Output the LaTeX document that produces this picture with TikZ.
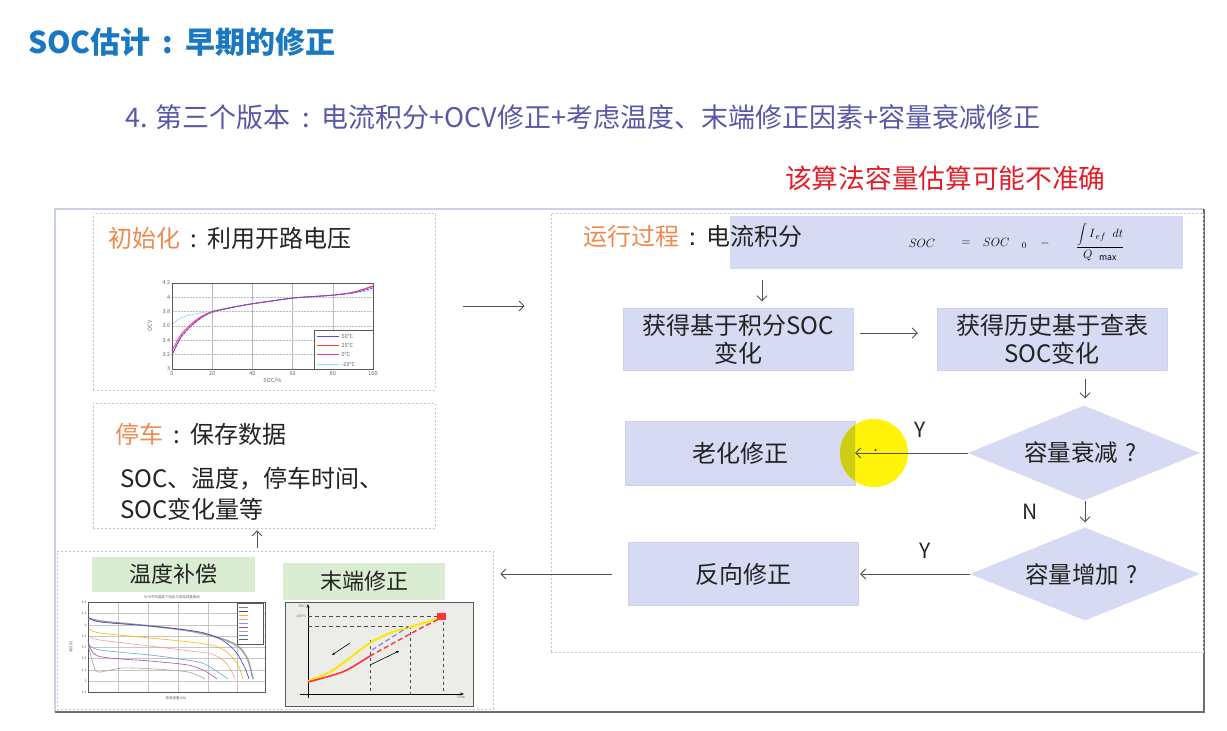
\documentclass[tikz,border=0pt]{standalone}
\usepackage{fontspec}
\setmainfont{Noto Sans CJK SC}
\usetikzlibrary{arrows.meta,shapes.geometric}
\definecolor{titleblue}{RGB}{26,120,192}
\definecolor{subblue}{RGB}{88,88,168}
\definecolor{warnred}{RGB}{228,30,40}
\definecolor{stageorange}{RGB}{238,138,78}
\definecolor{boxfill}{RGB}{214,218,242}
\definecolor{greenfill}{RGB}{218,237,210}
\definecolor{textdark}{RGB}{35,35,35}
\definecolor{arrowgray}{RGB}{80,80,80}
\definecolor{framegray}{RGB}{110,110,110}
\definecolor{chartbg}{RGB}{236,236,232}
% centred wide colon used in the headings
\newcommand{\widecolon}{\makebox[1.15em][c]{:}}
\newcommand{\wideqm}{\makebox[1.1em][c]{?}}
\begin{document}
\begin{tikzpicture}[x=1pt,y=-1pt,
  txt/.style={font=\fontsize{24}{28}\selectfont, text=textdark, inner sep=0},
  flowbox/.style={rectangle, fill=boxfill, draw=boxfill!90!gray, line width=0.4pt,
    minimum width=230pt, minimum height=62pt, inner sep=0, align=center,
    font=\fontsize{24}{28}\selectfont, text=textdark},
  decision/.style={diamond, aspect=2.44, fill=boxfill, inner sep=0,
    font=\fontsize{23.5}{28}\selectfont, text=textdark},
  flowarrow/.style={draw=arrowgray, line width=0.9pt,
    -{Straight Barb[length=5pt,width=10pt]}},
  panel/.style={draw=gray!45, dash pattern=on 2pt off 2pt, line width=0.7pt,
    inner sep=0},
  greenlabel/.style={fill=greenfill, inner sep=0, font=\fontsize{22}{26}\selectfont,
    text=textdark},
  yn/.style={font=\fontsize{21}{24}\selectfont, text=textdark, inner sep=0},
  formula/.style={inner sep=0, font=\fontsize{12.5}{14}\selectfont},
  tick/.style={font=\fontsize{5.5}{6}\selectfont, text=gray!80!black, inner sep=0.5pt},
  tiny/.style={font=\fontsize{3.5}{4}\selectfont, text=gray!80!black, inner sep=0.3pt}
]
\useasboundingbox (0,0) rectangle (1227,731);
\fill[white] (0,0) rectangle (1227,731);

% headings
\node[anchor=west, inner sep=0, text=titleblue, font=\fontsize{30}{34}\selectfont\bfseries]
  (title) at (28,42) {SOC估计\widecolon 早期的修正};
\node[anchor=west, inner sep=0, text=subblue, font=\fontsize{27}{31}\selectfont]
  (subtitle) at (125,117) {4. 第三个版本\widecolon 电流积分+OCV修正+考虑温度、末端修正因素+容量衰减修正};
\node[anchor=west, inner sep=0, text=warnred, font=\fontsize{26.7}{30}\selectfont]
  (warning) at (785,178) {该算法容量估算可能不准确};

% outer slide frame
\draw[color={rgb,255:red,200;green,210;blue,225}, line width=1.5pt] (55,712) -- (55,209) -- (1204,209);
\draw[framegray, line width=1.3pt] (1204,209) -- (1204,712) -- (55,712);

% dashed panels
\node[panel, minimum width=342pt, minimum height=177pt] (initp) at (264,301.5) {};
\node[panel, minimum width=342pt, minimum height=125pt] (stopp) at (264,465.5) {};
\node[panel, minimum width=436pt, minimum height=158pt] (botp) at (275,630) {};
\node[panel, minimum width=652pt, minimum height=439pt] (runp) at (877,432.5) {};

% ---------- initialisation panel ----------
\node[txt, anchor=west] (inittitle) at (108,238) {{\color{stageorange}初始化}\widecolon 利用开路电压};

% OCV-SOC curve chart
\begin{scope}[shift={(172,369)}, x=2.01pt, y=71.7pt]
  \foreach \s in {20,40,60,80} \draw[gray!55, line width=0.4pt] (\s,0) -- (\s,1.2);
  \foreach \v in {0.2,0.4,...,1.01} \draw[gray!55, dash pattern=on 1.5pt off 1.5pt, line width=0.4pt] (0,\v) -- (100,\v);
  \draw[cyan!40, line width=0.8pt] plot[smooth] coordinates {(0,0.62) (3,0.69) (7,0.74) (12,0.77) (20,0.81) (30,0.86) (40,0.91) (50,0.95) (60,0.99) (70,1.01) (80,1.03) (90,1.06) (100,1.1)};
  \draw[magenta!80, line width=0.8pt] plot[smooth] coordinates {(0,0.26) (2,0.36) (5,0.5) (10,0.64) (15,0.74) (20,0.8) (30,0.86) (40,0.91) (50,0.95) (60,0.99) (70,1.01) (80,1.03) (90,1.07) (100,1.15)};
  \draw[red!75, line width=0.8pt] plot[smooth] coordinates {(0,0.2) (2,0.32) (5,0.47) (10,0.62) (15,0.73) (20,0.8) (30,0.86) (40,0.91) (50,0.95) (60,0.99) (70,1.01) (80,1.03) (90,1.07) (100,1.16)};
  \draw[blue!70, line width=0.8pt, dash pattern=on 3pt off 1pt] plot[smooth] coordinates {(0,0.2) (2,0.31) (5,0.46) (10,0.61) (15,0.72) (20,0.79) (30,0.86) (40,0.91) (50,0.95) (60,0.99) (70,1.01) (80,1.03) (90,1.06) (100,1.13)};
  \draw[gray!70!black, line width=0.5pt] (0,0) rectangle (100,1.2);
  % legend
  \draw[gray!70!black, fill=white, line width=0.4pt] (70.6,0) rectangle (100,0.54);
  \draw[blue!70, line width=0.7pt] (72,0.46) -- (83,0.46);
  \draw[red!75, line width=0.7pt] (72,0.33) -- (83,0.33);
  \draw[magenta!80, line width=0.7pt] (72,0.2) -- (83,0.2);
  \draw[cyan!40, line width=0.7pt] (72,0.07) -- (83,0.07);
  \node[tick, anchor=west] (lg1) at (84,0.46) {50℃};
  \node[tick, anchor=west] (lg2) at (84,0.33) {25℃};
  \node[tick, anchor=west] (lg3) at (84,0.2) {0℃};
  \node[tick, anchor=west] (lg4) at (84,0.07) {-20℃};
  % axis ticks
  \foreach \v/\l in {0/3,0.2/3.2,0.4/3.4,0.6/3.6,0.8/3.8,1.0/4,1.2/4.2}
    \node[tick, anchor=east] at (-0.5,\v) {\l};
  \foreach \s in {0,20,...,100}
    \node[tick, anchor=north] at (\s,-0.02) {\s};
  \node[tick, rotate=90] (ocvlabel) at (-11,0.6) {OCV};
  \node[tick] (soclabel) at (50,-0.16) {SOC/\%};
\end{scope}

% ---------- parking panel ----------
\node[txt, anchor=west] (stoptitle) at (115,434) {{\color{stageorange}停车}\widecolon 保存数据};
\node[txt, anchor=west] (stopline1) at (120,479) {SOC、温度，停车时间、};
\node[txt, anchor=west] (stopline2) at (120,509) {SOC变化量等};

% ---------- compensation panel ----------
\node[greenlabel, minimum width=163pt, minimum height=35pt] (tempcomp) at (173.5,574.5) {温度补偿};
\node[greenlabel, minimum width=162pt, minimum height=37pt] (endcorr) at (364,581.5) {末端修正};

% discharge curves at different temperatures
\node[tiny] (dischtitle) at (172,597) {NCR不同温度下电压与放电容量曲线};
\foreach \yy in {602,613.5,625,636,647.5,658.5,670,681,692}
  \draw[gray!45, line width=0.3pt] (88,\yy) -- (265,\yy);
\foreach \xx in {118,148,178,208,237}
  \draw[gray!45, line width=0.3pt] (\xx,602) -- (\xx,692);
\draw[gray!70!black, line width=0.4pt] (88,602) rectangle (265,692);
\draw[gray!75, line width=1.6pt] plot[smooth] coordinates {(88,618) (100,621) (130,624) (160,627) (190,631) (212,636) (228,641) (240,648) (248,660) (253,679)};
\draw[blue!50!gray, line width=0.6pt] plot[smooth] coordinates {(88,617) (100,622) (150,626) (200,632) (222,640) (236,652) (245,668) (249,679)};
\draw[orange!60!yellow, line width=0.6pt] plot[smooth] coordinates {(89,629) (100,633) (150,638) (190,642) (215,646) (228,653) (238,665) (243,679)};
\draw[pink!80!red, line width=0.6pt] plot[smooth] coordinates {(89,636) (100,640) (150,646) (190,651) (212,654) (225,662) (232,672) (235,679)};
\draw[cyan!60!blue!60, line width=0.6pt] plot[smooth] coordinates {(89,645) (100,650) (150,655) (180,659) (202,663) (215,670) (228,679)};
\draw[violet!70, line width=0.6pt] plot[smooth] coordinates {(88,640) (98,656) (150,661) (188,665) (205,671) (217,679)};
\draw[gray!70, line width=0.6pt] plot[smooth] coordinates {(88,645) (93,663) (98,672) (122,668) (155,669) (188,672) (205,679)};
\draw[gray!70!black, fill=white, line width=0.3pt] (237,603) rectangle (263,644);
\foreach \yy/\cc in {607/gray, 611/blue!50!gray, 615/orange!60!yellow, 619/pink!80!red, 623/cyan!60!blue!60, 627/violet!70, 631/gray!70, 635/blue!60, 639/gray!80!black}
  \draw[\cc, line width=0.5pt] (239,\yy) -- (248,\yy);
\foreach \yy/\l in {602/4.4,613.5/4.2,625/4,636/3.8,647.5/3.6,658.5/3.4,670/3.2,681/3,692/2.8}
  \node[tiny, anchor=east] at (87,\yy) {\l};
\node[tiny, rotate=90] (voltlabel) at (71,647) {电压(V)};
\node[tiny] (caplabel) at (176,698) {放电容量(Ah)};

% end-of-charge correction chart
\draw[gray!70!black, fill=chartbg, line width=0.8pt] (285,602) rectangle (473,706);
\draw[black, line width=0.7pt, -{Stealth[length=4pt]}] (308,698) -- (308,604);
\draw[black, line width=0.7pt, -{Stealth[length=4pt]}] (300,694) -- (464,694);
\draw[gray!60!black, dash pattern=on 4pt off 3pt, line width=1pt] (308,616) -- (443,616);
\draw[gray!60!black, dash pattern=on 4pt off 3pt, line width=1pt] (308,626) -- (410,626);
\draw[gray!60!black, dash pattern=on 3pt off 3pt, line width=1pt] (370,640) -- (370,694);
\draw[gray!60!black, dash pattern=on 3pt off 3pt, line width=1pt] (410,626) -- (410,694);
\draw[gray!60!black, dash pattern=on 3pt off 3pt, line width=1pt] (443,616) -- (443,694);
\draw[yellow!90!orange, line width=2pt] plot[smooth] coordinates {(308,681) (330,672) (347,660) (370,643) (390,633) (410,627) (443,617)};
\draw[red!80, line width=1.6pt] plot[smooth] coordinates {(308,682) (330,676) (347,670) (370,656)};
\draw[red!80, line width=1.4pt, dash pattern=on 5pt off 3pt] plot[smooth] coordinates {(370,656) (390,645) (410,634) (425,626) (443,617)};
\draw[blue!50, line width=1.2pt, dash pattern=on 5pt off 3pt] (372,650) -- (408,627);
\fill[red!80] (437,613) rectangle (446,620);
\draw[black, line width=0.6pt, -{Stealth[length=3pt]}] (350,643) -- (332,655);
\draw[black, line width=0.6pt, -{Stealth[length=3pt]}] (370,665) -- (399,651);
\node[tiny, anchor=east] (socax) at (306,606) {SOC};
\node[tiny, anchor=east] (fullax) at (306,616) {100\%};
\node[tiny, anchor=north west] (timeax) at (456,695) {Time};

% ---------- running panel ----------
\node[rectangle, fill=boxfill, inner sep=0, minimum width=453pt, minimum height=53pt] (formula) at (956.5,242.5) {};
\node[txt, anchor=west] (runtitle) at (583,236) {{\color{stageorange}运行过程}\widecolon 电流积分};
\node[formula] (fsoc) at (922,243) {$SOC$};
\node[formula] (feq) at (966,243) {$=$};
\node[formula] (fsoc0) at (1005,243) {$SOC\quad{}_{0}$};
\node[formula] (fminus) at (1045,243) {$-$};
\node[formula] (ffrac) at (1100,242) {$\displaystyle\frac{\displaystyle\int I_{\,ef}\;\; dt}{Q\;\;{}_{\max}}$};

\node[flowbox] (b1) at (738,339.5) {获得基于积分SOC\\变化};
\node[flowbox] (b2) at (1052,339.5) {获得历史基于查表\\SOC变化};
\node[decision, minimum width=232pt, minimum height=95pt] (d1) at (1084,453) {容量衰减\wideqm};
\node[flowbox, minimum height=64pt] (aging) at (740,453) {老化修正};
\node[decision, minimum width=230pt, minimum height=93pt] (d2) at (1085,574) {容量增加\wideqm};
\node[flowbox, minimum height=63pt] (rev) at (743,574) {反向修正};

% pointer highlight
\fill[yellow!96!white] (874,453) circle[radius=34];
\begin{scope}
  \clip (625,421) rectangle (855,485);
  \fill[color={rgb,255:red,205;green,205;blue,20}] (874,453) circle[radius=34];
\end{scope}
\fill[red!80!black] (875.5,450) circle[radius=1.1];

% connectors
\coordinate (flowrow) at (0,306);
\coordinate (colA) at (762,0);
\coordinate (colB) at (1085,0);
\coordinate (rowB) at (0,333);
\coordinate (colC) at (257,0);
\draw[flowarrow, shorten <=28pt, shorten >=26pt] (initp.east |- flowrow) -- (runp.west |- flowrow);
\draw[flowarrow, shorten <=11pt, shorten >=7pt] (formula.south -| colA) -- (b1.north -| colA);
\draw[flowarrow, shorten <=7pt, shorten >=19pt] (b1.east |- rowB) -- (b2.west |- rowB);
\draw[flowarrow, shorten <=8pt, shorten >=7pt] (b2.south -| colB) -- (d1.north -| colB);
\draw[flowarrow] (d1.west) -- (aging.east);
\draw[flowarrow, shorten >=5pt] (d1.south -| colB) -- (d2.north -| colB);
\draw[flowarrow, shorten >=2pt] (d2.west) -- (rev.east);
\draw[flowarrow, shorten <=16pt, shorten >=7pt] (rev.west) -- (botp.east |- rev.west);
\draw[flowarrow, shorten <=3pt, shorten >=2pt] (botp.north -| colC) -- (stopp.south -| colC);

\node[yn] (yes1) at (920,430) {Y};
\node[yn] (no1) at (1030,512) {N};
\node[yn] (yes2) at (925,551) {Y};
\end{tikzpicture}
\end{document}
